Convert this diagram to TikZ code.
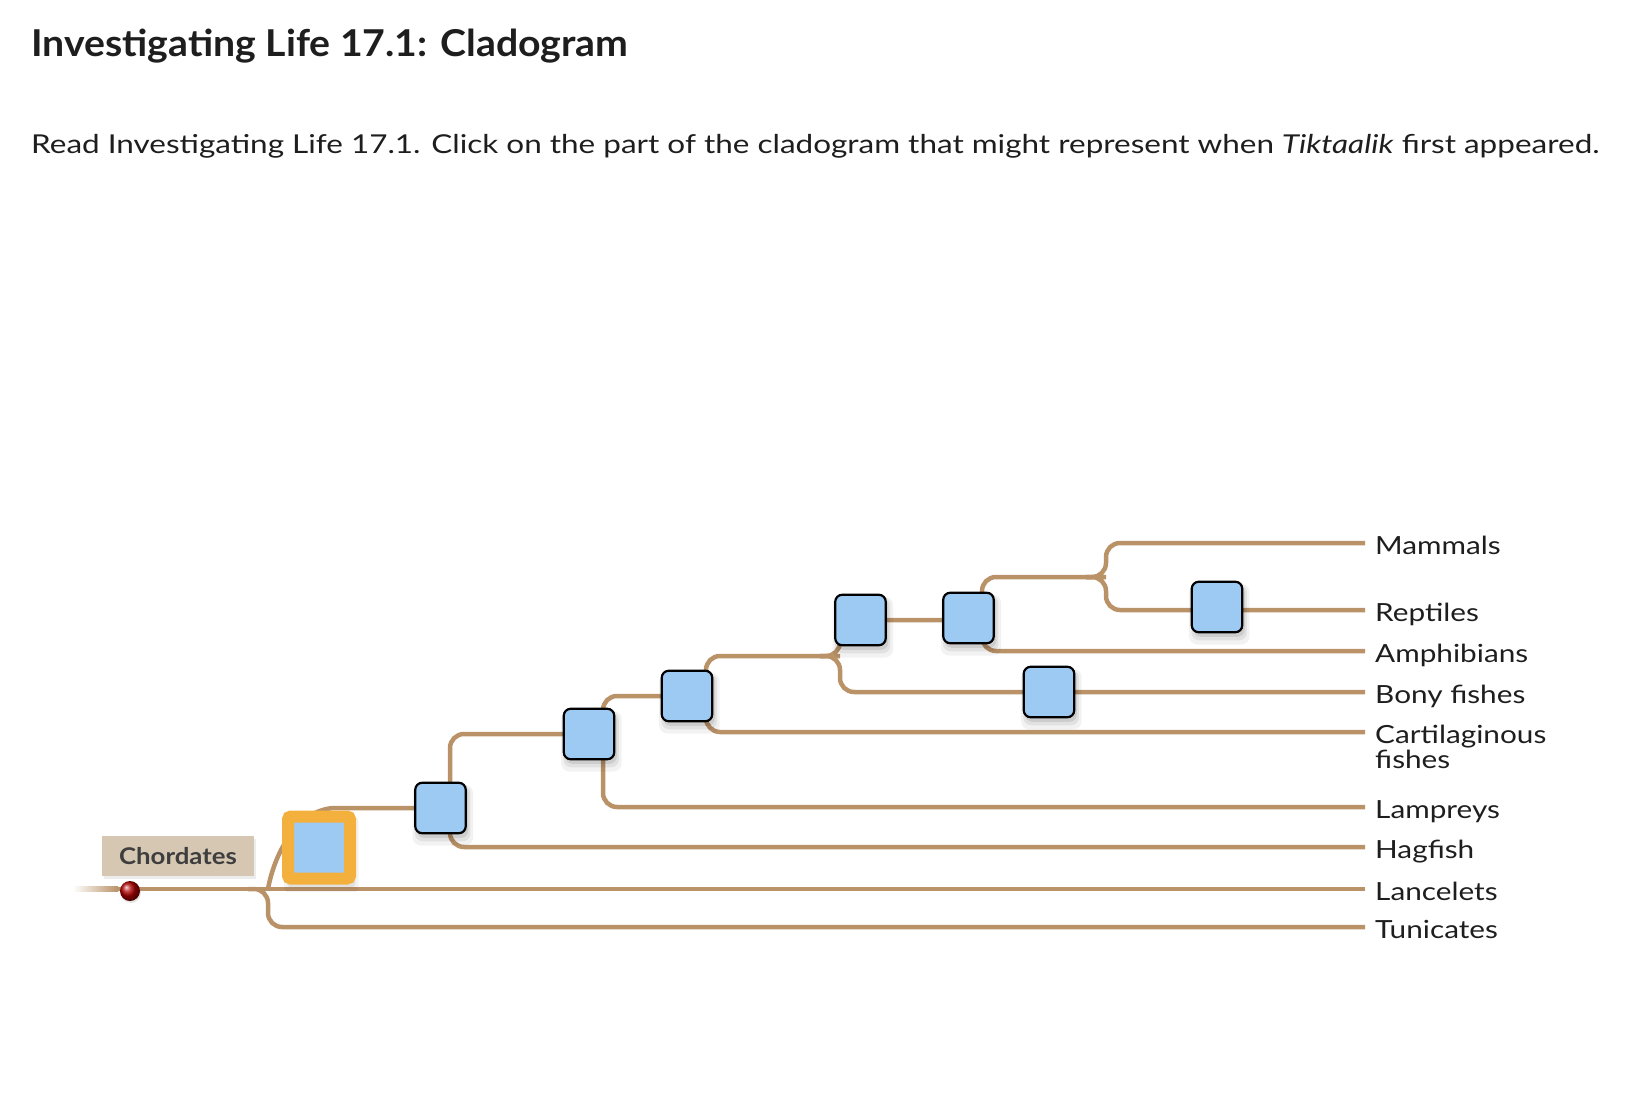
\documentclass[tikz,border=0pt]{standalone}
\usepackage{fontspec}
\setmainfont{Lato}[FakeStretch=1.19]
\newfontfamily\titlefont{Lato}[FakeStretch=1.06]
\newfontfamily\questfont{Lato}[FakeStretch=1.21]
\newfontfamily\chordfont{Lato}[FakeStretch=1.12]
\usetikzlibrary{shadows,calc}
\definecolor{branch}{RGB}{186,146,104}
\definecolor{boxblue}{RGB}{156,202,243}
\definecolor{orangeb}{RGB}{244,176,60}
\definecolor{chordfill}{RGB}{214,199,178}
\definecolor{chordtext}{RGB}{62,62,62}
\definecolor{txt}{RGB}{30,30,30}
\begin{document}
\begin{tikzpicture}[x=1pt,y=1pt,
  br/.style={draw=branch, line width=4.5pt, rounded corners=14pt},
  softshadow/.style={
    general shadow={fill=black, opacity=0.05, shadow xshift=2pt, shadow yshift=-6pt, shadow scale=1.2},
    general shadow={fill=black, opacity=0.07, shadow xshift=2pt, shadow yshift=-5pt, shadow scale=1.1},
    general shadow={fill=black, opacity=0.09, shadow xshift=2pt, shadow yshift=-4pt, shadow scale=1.02}},
  bbox/.style={draw=black, line width=2.2pt, fill=boxblue, rounded corners=7pt,
    minimum size=50.5pt, inner sep=0pt, softshadow},
  obox/.style={draw=orangeb, line width=12pt, fill=boxblue, rounded corners=3pt,
    minimum size=62pt, inner sep=0pt, softshadow},
  lab/.style={anchor=base west, inner sep=0pt, text=txt, font=\fontsize{25}{30}\selectfont}]
\useasboundingbox (0,0) rectangle (1636,-1118);

% header
\node[anchor=base west, inner sep=0pt, text=txt, font=\titlefont\fontsize{37}{44}\selectfont\bfseries] (title) at (31,-57) {Investigating Life 17.1: Cladogram};
\node[anchor=base west, inner sep=0pt, text=txt, font=\questfont\fontsize{26}{31}\selectfont] (question) at (31,-154) {Read Investigating Life 17.1. Click on the part of the cladogram that might represent when \textit{Tiktaalik} first appeared.};

% labels
\node[lab] (Lmam) at (1375,-554) {Mammals};
\node[lab] (Lrep) at (1375,-621) {Reptiles};
\node[lab] (Lamp) at (1375,-662) {Amphibians};
\node[lab] (Lbon) at (1375,-703) {Bony fishes};
\node[lab] (Lcar) at (1375,-743) {Cartilaginous};
\node[lab] (Lcar2) at (1375,-768) {fishes};
\node[lab] (Llam) at (1375,-818) {Lampreys};
\node[lab] (Lhag) at (1375,-858) {Hagfish};
\node[lab] (Llan) at (1375,-900) {Lancelets};
\node[lab] (Ltun) at (1375,-938) {Tunicates};

% split points
\coordinate (R) at (118,-889);
\coordinate (S0) at (268,-889);
\coordinate (S1) at (450,-808);
\coordinate (S2) at (603,-734);
\coordinate (S3) at (706,-696);
\coordinate (S4) at (840,-656);
\coordinate (S5) at (982,-620);
\coordinate (S6) at (1106,-577);

% branches
\fill[left color=white, right color=branch] (73,-886.75) rectangle (R |- 0,-891.25);
\draw[br] (R) -- (S0) -- ($(Llan.base west)+(-10,11)$);
\draw[br] ($(S0)+(-20,0)$) -- (S0) |- ($(Ltun.base west)+(-10,11)$);
\draw[br] (S0) .. controls ($(S0)+(7,39)$) and ($(S1)+(-150,0)$) .. ($(S1)+(-100,0)$) -- (S1);
\draw[br] ($(S1)+(-20,0)$) -- (S1) |- ($(Lhag.base west)+(-10,11)$);
\draw[br] ($(S1)+(-20,0)$) -- (S1) |- (S2);
\draw[br] ($(S2)+(-20,0)$) -- (S2) |- ($(Llam.base west)+(-10,11)$);
\draw[br] ($(S2)+(-20,0)$) -- (S2) |- (S3);
\draw[br] ($(S3)+(-20,0)$) -- (S3) |- ($(Lcar.base west)+(-10,11)$);
\draw[br] ($(S3)+(-20,0)$) -- (S3) |- (S4);
\draw[br] ($(S4)+(-20,0)$) -- (S4) |- ($(Lbon.base west)+(-10,11)$);
\draw[br] ($(S4)+(-20,0)$) -- (S4) |- (S5);
\draw[br] ($(S5)+(-20,0)$) -- (S5) |- ($(Lamp.base west)+(-10,11)$);
\draw[br] ($(S5)+(-20,0)$) -- (S5) |- (S6);
\draw[br] ($(S6)+(-20,0)$) -- (S6) |- ($(Lmam.base west)+(-10,11)$);
\draw[br] ($(S6)+(-20,0)$) -- (S6) |- ($(Lrep.base west)+(-10,11)$);

% chordates label and dot
\node[fill=chordfill, minimum width=152pt, minimum height=40pt, inner sep=0pt,
  text=chordtext, font=\chordfont\fontsize{23}{27}\selectfont\bfseries,
  drop shadow={shadow xshift=2pt, shadow yshift=-3pt, opacity=0.15}] (chord) at (178,-856) {Chordates};
\node[circle, minimum size=20pt, inner sep=0pt, ball color=red!70!black,
  drop shadow={shadow xshift=1pt, shadow yshift=-2pt, opacity=0.2}] (dot) at (130,-891) {};

% character boxes
\node[obox] (O) at (319,-847.5) {};
\node[bbox] (B1) at (440.5,-808) {};
\node[bbox] (B2) at (589,-734) {};
\node[bbox] (B3) at (687,-696) {};
\node[bbox] (B4) at (860.5,-620) {};
\node[bbox] (B5) at (968.5,-618) {};
\node[bbox] (B6) at (1217,-607) {};
\node[bbox] (B7) at (1049,-692) {};
\end{tikzpicture}
\end{document}
